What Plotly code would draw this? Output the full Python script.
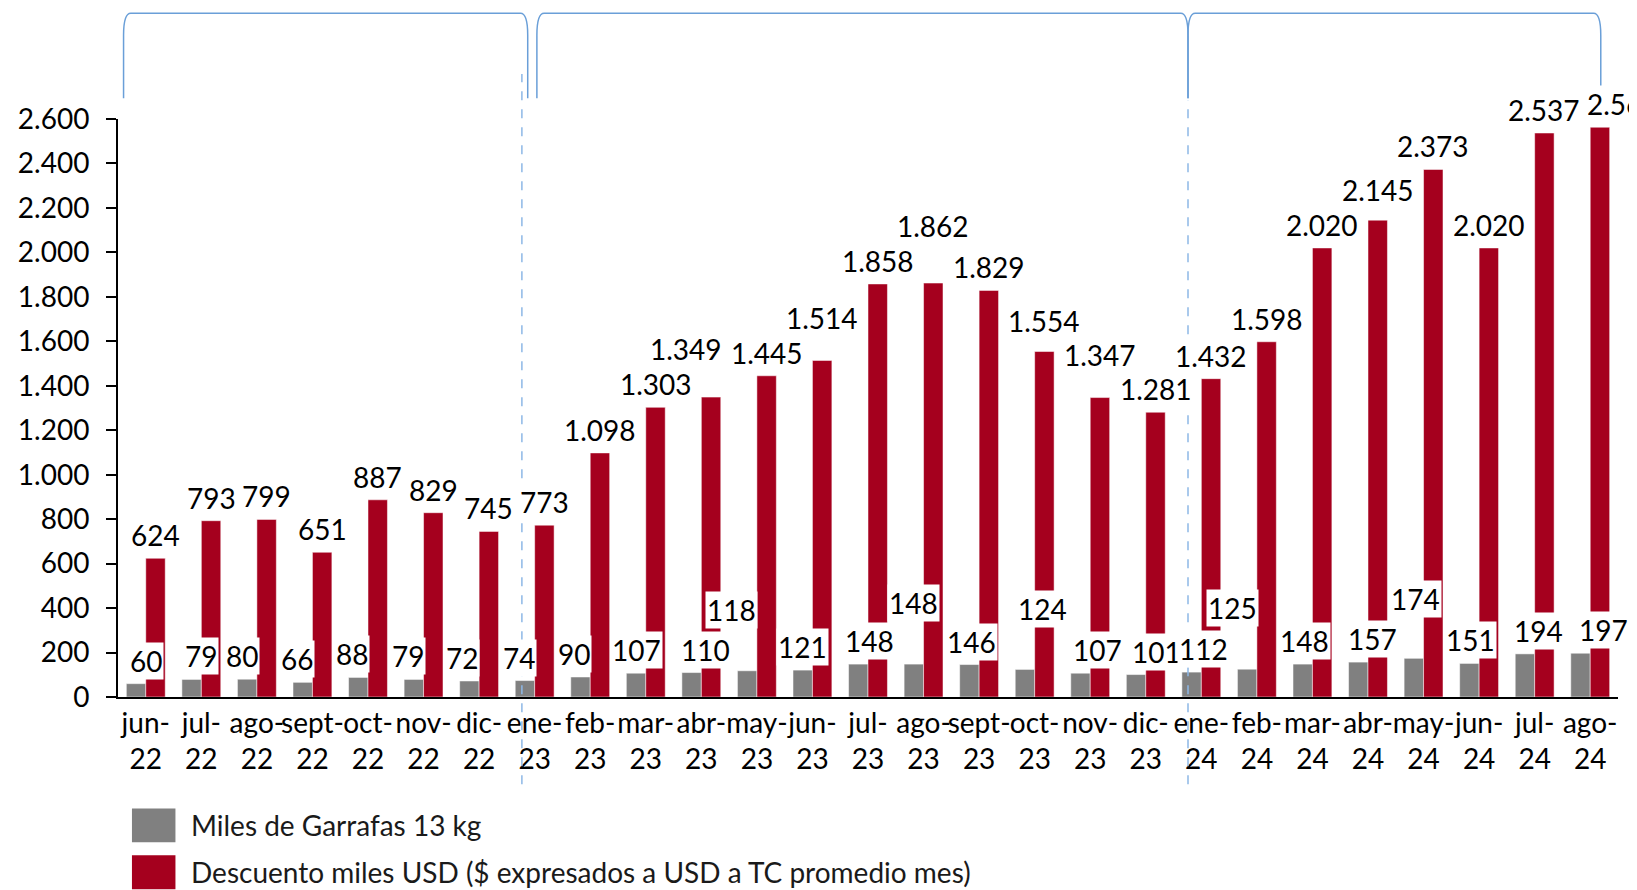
import plotly.graph_objects as go

# Datos mensuales (jun-22 a ago-24)
categories = ["jun-22", "jul-22", "ago-22", "sept-22", "oct-22", "nov-22", "dic-22",
              "ene-23", "feb-23", "mar-23", "abr-23", "may-23", "jun-23", "jul-23",
              "ago-23", "sept-23", "oct-23", "nov-23", "dic-23",
              "ene-24", "feb-24", "mar-24", "abr-24", "may-24", "jun-24", "jul-24", "ago-24"]
garrafas = [60, 79, 80, 66, 88, 79, 72, 74, 90, 107, 110, 118, 121, 148, 148, 146,
            124, 107, 101, 112, 125, 148, 157, 174, 151, 194, 197]
descuento = [624, 793, 799, 651, 887, 829, 745, 773, 1098, 1303, 1349, 1445, 1514,
             1858, 1862, 1829, 1554, 1347, 1281, 1432, 1598, 2020, 2145, 2373, 2020,
             2537, 2563]
series_names = ["Miles de Garrafas 13 kg",
                "Descuento miles USD ($ expresados a USD a TC promedio mes)"]

GRAY = "#808080"
RED = "#A5001E"
BLUE = "#6A9FD8"
FONT = "Lato"
FS = 28
BARGAP = 0.3

# desplazamientos manuales de etiquetas (px), como en el original
gray_dx = [10, 9, -5, -6, -6, -6, -7, -6, -7, 0, 14, -16, 0, 11, 0, 2, 18, 17, 20, 12,
           -15, 2, 14, 2, 1, 14, 23]
gray_dy = {11: 38, 14: 38, 16: 37, 20: 38, 23: 36}
red_dx = {10: -25, 26: 23}
red_dy = {10: 25, 12: 19, 14: 34, 16: 8, 17: 20, 22: 7}


def fmt(v):
    return f"{v:,}".replace(",", ".")


idx = list(range(len(categories)))
ticktext = [c.replace("-", "-<br>") for c in categories]

fig = go.Figure()
fig.add_trace(go.Bar(x=idx, y=garrafas, name=series_names[0], marker_color=GRAY,
                     marker_line=dict(color="rgba(255,255,255,0.5)", width=1)))
fig.add_trace(go.Bar(x=idx, y=descuento, name=series_names[1], marker_color=RED,
                     marker_line=dict(color="rgba(255,255,255,0.5)", width=1)))

# etiquetas con fondo blanco
half = (1 - BARGAP) / 4
lab_font = dict(family=FONT, size=FS, color="black")
for i in idx:
    fig.add_annotation(x=i - half, y=garrafas[i], text=fmt(garrafas[i]),
                       xanchor="center", yanchor="bottom", showarrow=False,
                       xshift=gray_dx[i], yshift=4 + gray_dy.get(i, 0),
                       bgcolor="white", borderpad=1, font=lab_font)
    fig.add_annotation(x=i + half, y=descuento[i], text=fmt(descuento[i]),
                       xanchor="center", yanchor="bottom", showarrow=False,
                       xshift=red_dx.get(i, 0), yshift=4 + red_dy.get(i, 0),
                       bgcolor="white", borderpad=1, font=lab_font)

# llaves superiores (una por año)
def brace(x0, x1):
    yb, ym, yt, dx = 1.036, 1.145, 1.183, 0.13
    return (f"M {x0},{yb} L {x0},{ym} Q {x0},{yt} {x0 + dx},{yt} "
            f"L {x1 - dx},{yt} Q {x1},{yt} {x1},{ym} L {x1},{yb}")


for x0, x1 in [(-0.40, 6.875), (7.04, 18.76), (18.76, 26.19)]:
    fig.add_shape(type="path", path=brace(x0, x1), xref="x", yref="paper",
                  line=dict(color=BLUE, width=1.5))

# separadores punteados
for xs, ytop in [(6.77, 1.078), (18.76, 1.033)]:
    fig.add_shape(type="line", x0=xs, x1=xs, y0=-0.151, y1=ytop, xref="x", yref="paper",
                  line=dict(color="#8DB8E6", width=1.5, dash="dash"))

# leyenda manual
for k, (col, y0, y1, ty) in enumerate([(GRAY, -0.1927, -0.2515, -0.222),
                                       (RED, -0.274, -0.3328, -0.302)]):
    fig.add_shape(type="rect", xref="paper", yref="paper", x0=0.0093, x1=0.0383,
                  y0=y0, y1=y1, fillcolor=col, line=dict(width=0))
    fig.add_annotation(xref="paper", yref="paper", x=0.047, y=ty, text=series_names[k],
                       xanchor="left", yanchor="middle", showarrow=False,
                       font=dict(family=FONT, size=FS, color="#1a1a1a"))

fig.update_layout(
    width=1637, height=890,
    margin=dict(l=109.5, r=27, t=111, b=200.5),
    plot_bgcolor="white", paper_bgcolor="white",
    barmode="group", bargap=BARGAP, bargroupgap=0,
    showlegend=False,
    separators=",.",
    font=dict(family=FONT, size=FS, color="black"),
    xaxis=dict(range=[-0.5, len(idx) - 0.5], tickvals=idx, ticktext=ticktext,
               tickangle=0, showgrid=False, zeroline=False, ticks="",
               showline=True, linecolor="black", linewidth=2, automargin=False,
               tickfont=dict(family=FONT, size=FS, color="black")),
    yaxis=dict(range=[0, 2600], dtick=200, tickformat=",d", showgrid=False,
               zeroline=False, ticks="outside", ticklen=10, tickwidth=2,
               tickcolor="black", showline=True, linecolor="black", linewidth=2,
               ticklabelstandoff=11, automargin=False,
               tickfont=dict(family=FONT, size=FS, color="black")),
)

fig.write_html("out.html")
